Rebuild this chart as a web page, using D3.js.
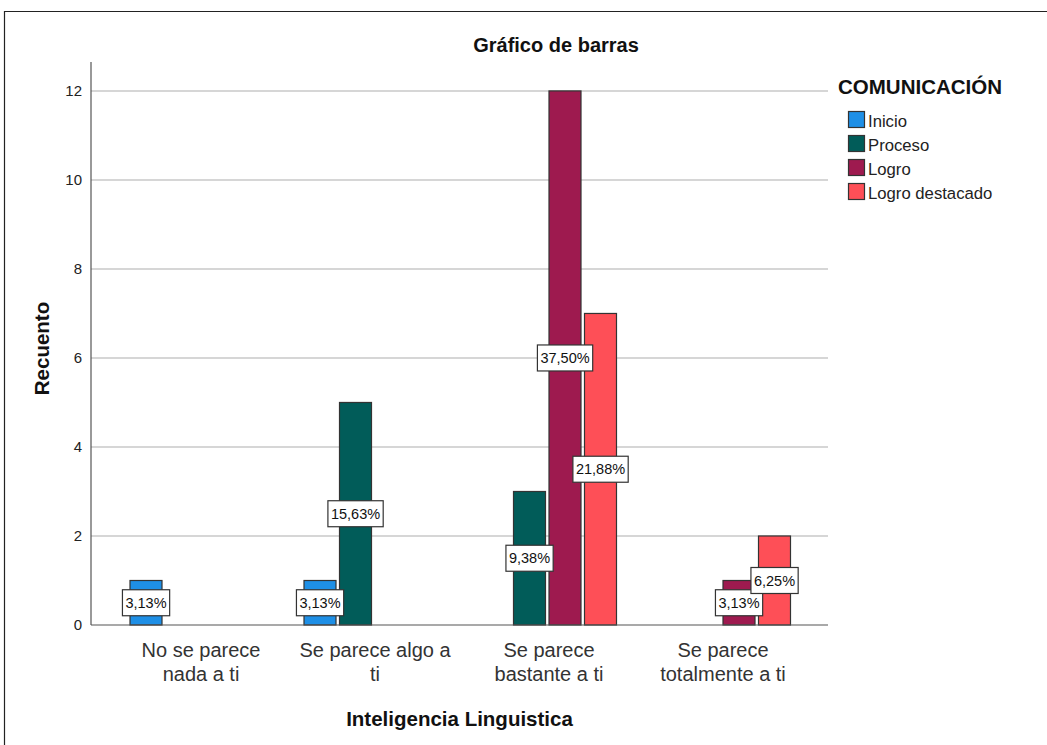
<!DOCTYPE html>
<html><head><meta charset="utf-8">
<script src="https://cdn.jsdelivr.net/npm/d3@7"></script>
<style>
html,body{margin:0;padding:0;background:#fff;}
svg{display:block;}
text{font-family:"Liberation Sans",Arial,sans-serif;}
</style></head>
<body>
<script>
const categories = [["No se parece","nada a ti"],["Se parece algo a","ti"],["Se parece","bastante a ti"],["Se parece","totalmente a ti"]];
const series = ["Inicio","Proceso","Logro","Logro destacado"];
const colors = ["#1e8fe6","#015c59","#9e1a4f","#fe4f57"];
const inicio = [1,1,0,0];
const proceso = [0,5,3,0];
const logro = [0,0,12,1];
const logroDestacado = [0,0,7,2];
const percentLabels = [
  ["3,13%","","",""],
  ["3,13%","15,63%","",""],
  ["","9,38%","37,50%","21,88%"],
  ["","","3,13%","6,25%"]
];
const yTicks = [0,2,4,6,8,10,12];
const values = [inicio, proceso, logro, logroDestacado];

const W = 1047, H = 745;
const svg = d3.select("body").append("svg").attr("width", W).attr("height", H);

// frame
svg.append("path").attr("d", `M4.5,${H} L4.5,11.5 L${W},11.5`).attr("fill","none").attr("stroke","#222").attr("stroke-width",1.2);

const plotL = 91, plotR = 828, plotT = 62, plotB = 625;
const y = d3.scaleLinear().domain([0, 12.65]).range([plotB, plotT]);
const x0 = d3.scaleBand().domain(d3.range(categories.length)).range([114, 810]).paddingInner(0).paddingOuter(0);
const x1 = d3.scaleBand().domain(d3.range(series.length)).range([-71, 67.5]).paddingInner(0.0986).paddingOuter(0);

// gridlines
svg.append("g").selectAll("line").data(yTicks.filter(d=>d>0)).join("line")
  .attr("x1", plotL).attr("x2", plotR).attr("y1", d=>y(d)).attr("y2", d=>y(d))
  .attr("stroke","#c8c8c8").attr("stroke-width",1.6);

// y axis
const yAxis = d3.axisLeft(y).tickValues(yTicks).tickSize(0).tickPadding(9).tickFormat(d3.format("d"));
const gy = svg.append("g").attr("transform",`translate(${plotL},0)`).call(yAxis);
gy.select(".domain").remove();
gy.selectAll("text").attr("font-size",15).attr("fill","#222").style("font-family","'Liberation Sans',Arial,sans-serif");
svg.append("line").attr("x1",plotL).attr("x2",plotL).attr("y1",plotT).attr("y2",plotB).attr("stroke","#555").attr("stroke-width",1.2);

// bars
const bars = [];
categories.forEach((c,i)=>{
  series.forEach((s,j)=>{
    bars.push({i,j,v:values[j][i],label:percentLabels[i][j]});
  });
});
const shown = bars.filter(d=>d.v>0);
svg.append("g").selectAll("rect").data(shown).join("rect")
  .attr("x", d=>x0(d.i)+x0.bandwidth()/2 + x1(d.j))
  .attr("y", d=>y(d.v))
  .attr("width", x1.bandwidth())
  .attr("height", d=>y(0)-y(d.v))
  .attr("fill", d=>colors[d.j])
  .attr("stroke","#333").attr("stroke-width",1.2);

// baseline
svg.append("line").attr("x1",plotL).attr("x2",plotR).attr("y1",plotB).attr("y2",plotB).attr("stroke","#555").attr("stroke-width",1.2);

// percent labels
const lg = svg.append("g").selectAll("g").data(shown.filter(d=>d.label)).join("g")
  .attr("transform", d=>`translate(${x0(d.i)+x0.bandwidth()/2 + x1(d.j) + x1.bandwidth()/2},${y(d.v/2)})`);
lg.append("text").attr("text-anchor","middle").attr("dy","0.36em").attr("font-size",14.5).attr("fill","#111")
  .text(d=>d.label);
lg.each(function(){
  const g = d3.select(this);
  const bb = g.select("text").node().getBBox();
  g.insert("rect","text").attr("x",bb.x-3).attr("y",-13).attr("width",bb.width+6).attr("height",26)
    .attr("fill","#fff").attr("stroke","#333").attr("stroke-width",1.2);
});

// category labels
const cg = svg.append("g").selectAll("text").data(categories).join("text")
  .attr("text-anchor","middle").attr("font-size",20).attr("fill","#333")
  .attr("transform",(d,i)=>`translate(${x0(i)+x0.bandwidth()/2},0)`);
cg.selectAll("tspan").data(d=>d).join("tspan").attr("x",0).attr("y",(d,k)=>657+k*23.5).text(d=>d);

// axis titles
svg.append("text").attr("x",(plotL+plotR)/2).attr("y",726).attr("text-anchor","middle")
  .attr("font-size",20.5).attr("font-weight","bold").attr("fill","#111").text("Inteligencia Linguistica");
svg.append("text").attr("transform",`translate(49,${(plotT+plotB)/2+5}) rotate(-90)`).attr("text-anchor","middle")
  .attr("font-size",20.5).attr("font-weight","bold").attr("fill","#111").text("Recuento");
svg.append("text").attr("x",556).attr("y",52).attr("text-anchor","middle")
  .attr("font-size",20).attr("font-weight","bold").attr("fill","#111").text("Gráfico de barras");

// legend
svg.append("text").attr("x",838).attr("y",94).attr("font-size",20.5).attr("font-weight","bold").attr("fill","#111").text("COMUNICACIÓN");
const leg = svg.append("g").selectAll("g").data(series).join("g")
  .attr("transform",(d,i)=>`translate(848.5,${111.5+i*24})`);
leg.append("rect").attr("width",16).attr("height",16).attr("fill",(d,i)=>colors[i]).attr("stroke","#333").attr("stroke-width",1.2);
leg.append("text").attr("x",19.5).attr("y",15.5).attr("font-size",16.7).attr("fill","#222").text(d=>d);
</script>
</body></html>
